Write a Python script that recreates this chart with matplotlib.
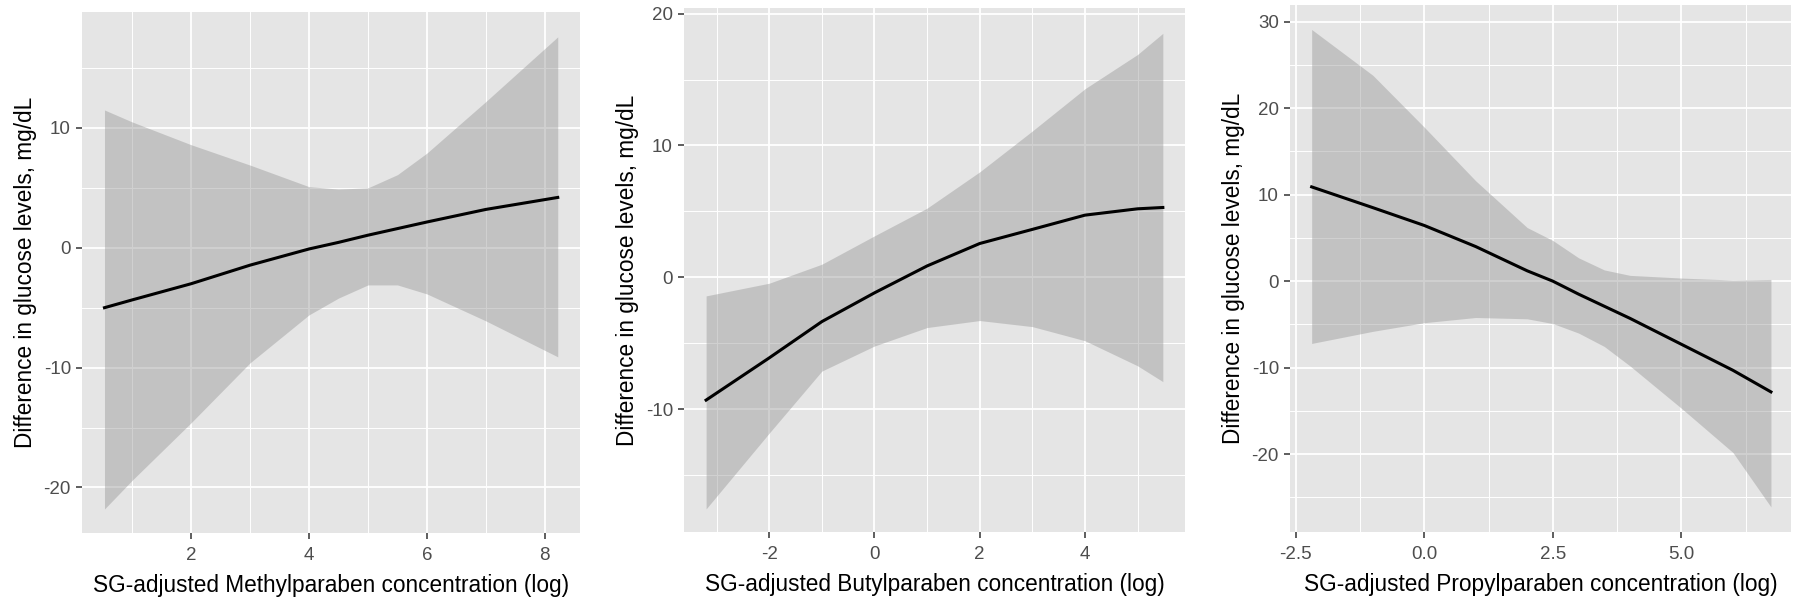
import matplotlib
matplotlib.use('Agg')
import matplotlib.pyplot as plt
import numpy as np
from matplotlib.ticker import MultipleLocator

plt.rcParams['font.family'] = ['Liberation Sans', 'DejaVu Sans']
plt.rcParams['axes.unicode_minus'] = False

ylabel = 'Difference in glucose levels, mg/dL'

# Methylparaben
methyl_x = [0.53, 1, 2, 3, 4, 4.5, 5, 5.5, 6, 7, 8.22]
methyl_fit = [-5.0, -4.35, -3.0, -1.45, -0.1, 0.45, 1.05, 1.6, 2.15, 3.2, 4.2]
methyl_lo = [-21.8, -19.4, -14.6, -9.6, -5.6, -4.2, -3.1, -3.1, -3.85, -6.1, -9.1]
methyl_hi = [11.5, 10.5, 8.6, 6.9, 5.1, 4.9, 5.0, 6.1, 7.9, 12.2, 17.6]

# Butylparaben
butyl_x = [-3.2, -2, -1, 0, 1, 2, 3, 4, 5, 5.48]
butyl_fit = [-9.3, -6.1, -3.35, -1.17, 0.87, 2.57, 3.64, 4.72, 5.2, 5.3]
butyl_lo = [-17.55, -11.8, -7.1, -5.2, -3.8, -3.27, -3.73, -4.8, -6.7, -7.9]
butyl_hi = [-1.4, -0.44, 1.0, 3.15, 5.25, 8.0, 11.1, 14.3, 16.9, 18.5]

# Propylparaben
propyl_x = [-2.19, -1, 0, 1, 2, 2.5, 3, 3.5, 4, 5, 6, 6.74]
propyl_fit = [10.9, 8.5, 6.44, 4.0, 1.2, 0.0, -1.5, -2.9, -4.3, -7.3, -10.3, -12.8]
propyl_lo = [-7.2, -5.8, -4.8, -4.2, -4.35, -4.9, -6.0, -7.55, -9.8, -14.7, -19.8, -26.1]
propyl_hi = [29.1, 23.8, 17.8, 11.6, 6.2, 4.7, 2.7, 1.3, 0.67, 0.36, 0.13, 0.2]

panels = [
    (methyl_x, methyl_fit, methyl_lo, methyl_hi,
     'SG-adjusted Methylparaben concentration (log)',
     [2, 4, 6, 8], ['2', '4', '6', '8'], [-20, -10, 0, 10],
     (0.15, 8.6), (-23.8, 19.7), [0.0456, 0.1248, 0.2767, 0.856], 1, 5),
    (butyl_x, butyl_fit, butyl_lo, butyl_hi,
     'SG-adjusted Butylparaben concentration (log)',
     [-2, 0, 2, 4], ['-2', '0', '2', '4'], [-10, 0, 10, 20],
     (-3.62, 5.9), (-19.3, 20.4), [0.38, 0.1264, 0.2783, 0.860], 1, 5),
    (propyl_x, propyl_fit, propyl_lo, propyl_hi,
     'SG-adjusted Propylparaben concentration (log)',
     [-2.5, 0, 2.5, 5], ['-2.5', '0.0', '2.5', '5.0'], [-20, -10, 0, 10, 20, 30],
     (-2.61, 7.13), (-29.0, 31.9), [0.7167, 0.1264, 0.2783, 0.865], 1.25, 5),
]

fig = plt.figure(figsize=(18, 6.09), dpi=100)

for (x, fit, lo, hi, xlab, xt, xtl, yt, xl, yl, pos, xminor, yminor) in panels:
    ax = fig.add_axes(pos)
    ax.set_facecolor('#E5E5E5')
    for s in ax.spines.values():
        s.set_visible(False)
    ax.set_xlim(*xl)
    ax.set_ylim(*yl)
    ax.set_xticks(xt)
    ax.set_xticklabels(xtl)
    ax.set_yticks(yt)
    ax.xaxis.set_minor_locator(MultipleLocator(xminor))
    ax.yaxis.set_minor_locator(MultipleLocator(yminor))
    ax.grid(which='major', color='white', linewidth=1.3)
    ax.grid(which='minor', color='white', linewidth=0.7)
    ax.set_axisbelow(True)
    ax.tick_params(which='major', length=4, width=1.1, color='#333333',
                   labelcolor='#4D4D4D', labelsize=13.5, pad=4)
    ax.tick_params(axis='x', which='major', pad=6)
    ax.tick_params(which='minor', length=0)
    ax.fill_between(x, lo, hi, color='#999999', alpha=0.45, linewidth=0)
    ax.plot(x, fit, color='black', linewidth=2.2)
    ax.set_xlabel(xlab, fontsize=16.3, labelpad=7)
    ax.set_ylabel(ylabel, fontsize=16.3, labelpad=5)

fig.savefig('out.png', dpi=100)
